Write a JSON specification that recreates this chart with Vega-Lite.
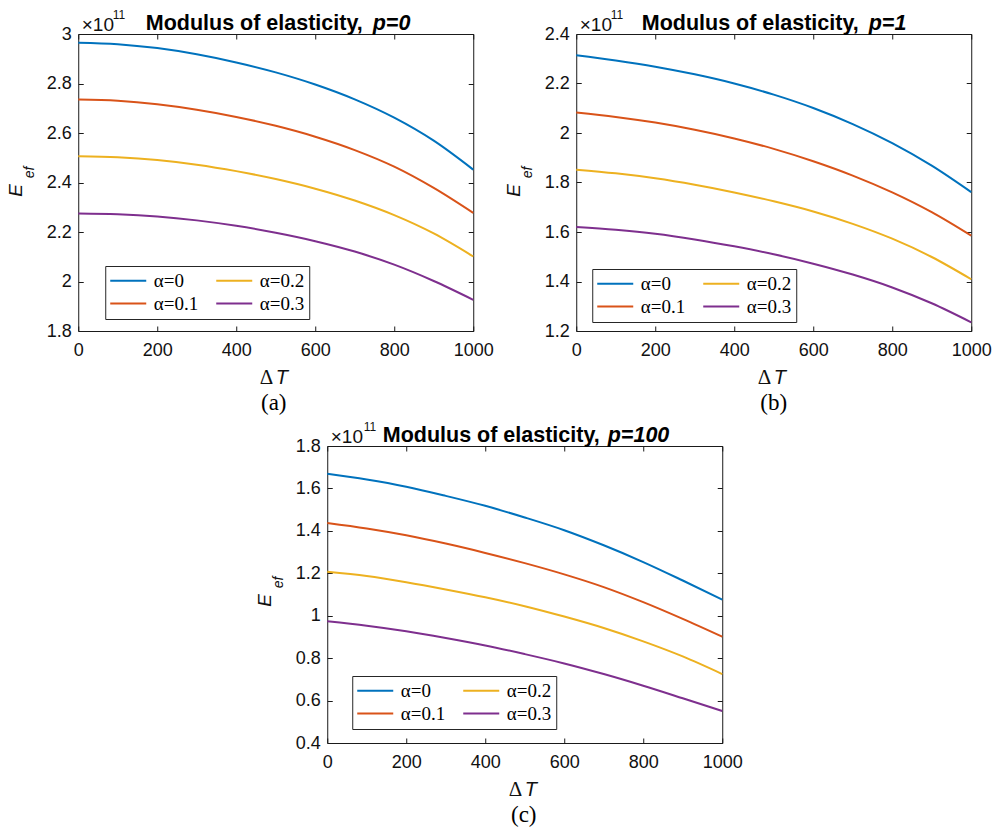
{
  "$schema": "https://vega.github.io/schema/vega-lite/v6.json",
  "padding": {"left": 5, "top": 7, "right": 5, "bottom": 5},
  "datasets": {
    "a": [
      {"T":0,"E":2.965,"alpha":"α=0"},{"T":100,"E":2.959,"alpha":"α=0"},{"T":200,"E":2.943,"alpha":"α=0"},{"T":300,"E":2.918,"alpha":"α=0"},{"T":400,"E":2.885,"alpha":"α=0"},{"T":500,"E":2.845,"alpha":"α=0"},{"T":600,"E":2.796,"alpha":"α=0"},{"T":700,"E":2.736,"alpha":"α=0"},{"T":800,"E":2.662,"alpha":"α=0"},{"T":900,"E":2.569,"alpha":"α=0"},{"T":1000,"E":2.452,"alpha":"α=0"},
      {"T":0,"E":2.735,"alpha":"α=0.1"},{"T":100,"E":2.730,"alpha":"α=0.1"},{"T":200,"E":2.716,"alpha":"α=0.1"},{"T":300,"E":2.694,"alpha":"α=0.1"},{"T":400,"E":2.665,"alpha":"α=0.1"},{"T":500,"E":2.629,"alpha":"α=0.1"},{"T":600,"E":2.585,"alpha":"α=0.1"},{"T":700,"E":2.531,"alpha":"α=0.1"},{"T":800,"E":2.464,"alpha":"α=0.1"},{"T":900,"E":2.378,"alpha":"α=0.1"},{"T":1000,"E":2.277,"alpha":"α=0.1"},
      {"T":0,"E":2.506,"alpha":"α=0.2"},{"T":100,"E":2.502,"alpha":"α=0.2"},{"T":200,"E":2.491,"alpha":"α=0.2"},{"T":300,"E":2.472,"alpha":"α=0.2"},{"T":400,"E":2.446,"alpha":"α=0.2"},{"T":500,"E":2.414,"alpha":"α=0.2"},{"T":600,"E":2.375,"alpha":"α=0.2"},{"T":700,"E":2.327,"alpha":"α=0.2"},{"T":800,"E":2.268,"alpha":"α=0.2"},{"T":900,"E":2.194,"alpha":"α=0.2"},{"T":1000,"E":2.101,"alpha":"α=0.2"},
      {"T":0,"E":2.275,"alpha":"α=0.3"},{"T":100,"E":2.272,"alpha":"α=0.3"},{"T":200,"E":2.263,"alpha":"α=0.3"},{"T":300,"E":2.247,"alpha":"α=0.3"},{"T":400,"E":2.225,"alpha":"α=0.3"},{"T":500,"E":2.197,"alpha":"α=0.3"},{"T":600,"E":2.163,"alpha":"α=0.3"},{"T":700,"E":2.121,"alpha":"α=0.3"},{"T":800,"E":2.068,"alpha":"α=0.3"},{"T":900,"E":2.002,"alpha":"α=0.3"},{"T":1000,"E":1.926,"alpha":"α=0.3"}
    ],
    "b": [
      {"T":0,"E":2.314,"alpha":"α=0"},{"T":100,"E":2.293,"alpha":"α=0"},{"T":200,"E":2.268,"alpha":"α=0"},{"T":300,"E":2.237,"alpha":"α=0"},{"T":400,"E":2.200,"alpha":"α=0"},{"T":500,"E":2.155,"alpha":"α=0"},{"T":600,"E":2.101,"alpha":"α=0"},{"T":700,"E":2.036,"alpha":"α=0"},{"T":800,"E":1.959,"alpha":"α=0"},{"T":900,"E":1.868,"alpha":"α=0"},{"T":1000,"E":1.761,"alpha":"α=0"},
      {"T":0,"E":2.083,"alpha":"α=0.1"},{"T":100,"E":2.065,"alpha":"α=0.1"},{"T":200,"E":2.042,"alpha":"α=0.1"},{"T":300,"E":2.013,"alpha":"α=0.1"},{"T":400,"E":1.978,"alpha":"α=0.1"},{"T":500,"E":1.936,"alpha":"α=0.1"},{"T":600,"E":1.886,"alpha":"α=0.1"},{"T":700,"E":1.828,"alpha":"α=0.1"},{"T":800,"E":1.760,"alpha":"α=0.1"},{"T":900,"E":1.680,"alpha":"α=0.1"},{"T":1000,"E":1.585,"alpha":"α=0.1"},
      {"T":0,"E":1.852,"alpha":"α=0.2"},{"T":100,"E":1.837,"alpha":"α=0.2"},{"T":200,"E":1.817,"alpha":"α=0.2"},{"T":300,"E":1.791,"alpha":"α=0.2"},{"T":400,"E":1.760,"alpha":"α=0.2"},{"T":500,"E":1.724,"alpha":"α=0.2"},{"T":600,"E":1.683,"alpha":"α=0.2"},{"T":700,"E":1.633,"alpha":"α=0.2"},{"T":800,"E":1.573,"alpha":"α=0.2"},{"T":900,"E":1.499,"alpha":"α=0.2"},{"T":1000,"E":1.409,"alpha":"α=0.2"},
      {"T":0,"E":1.620,"alpha":"α=0.3"},{"T":100,"E":1.609,"alpha":"α=0.3"},{"T":200,"E":1.593,"alpha":"α=0.3"},{"T":300,"E":1.570,"alpha":"α=0.3"},{"T":400,"E":1.542,"alpha":"α=0.3"},{"T":500,"E":1.510,"alpha":"α=0.3"},{"T":600,"E":1.472,"alpha":"α=0.3"},{"T":700,"E":1.428,"alpha":"α=0.3"},{"T":800,"E":1.376,"alpha":"α=0.3"},{"T":900,"E":1.312,"alpha":"α=0.3"},{"T":1000,"E":1.235,"alpha":"α=0.3"}
    ],
    "c": [
      {"T":0,"E":1.669,"alpha":"α=0"},{"T":100,"E":1.642,"alpha":"α=0"},{"T":200,"E":1.608,"alpha":"α=0"},{"T":300,"E":1.565,"alpha":"α=0"},{"T":400,"E":1.518,"alpha":"α=0"},{"T":500,"E":1.463,"alpha":"α=0"},{"T":600,"E":1.403,"alpha":"α=0"},{"T":700,"E":1.332,"alpha":"α=0"},{"T":800,"E":1.253,"alpha":"α=0"},{"T":900,"E":1.166,"alpha":"α=0"},{"T":1000,"E":1.076,"alpha":"α=0"},
      {"T":0,"E":1.437,"alpha":"α=0.1"},{"T":100,"E":1.411,"alpha":"α=0.1"},{"T":200,"E":1.379,"alpha":"α=0.1"},{"T":300,"E":1.340,"alpha":"α=0.1"},{"T":400,"E":1.296,"alpha":"α=0.1"},{"T":500,"E":1.248,"alpha":"α=0.1"},{"T":600,"E":1.195,"alpha":"α=0.1"},{"T":700,"E":1.135,"alpha":"α=0.1"},{"T":800,"E":1.064,"alpha":"α=0.1"},{"T":900,"E":0.985,"alpha":"α=0.1"},{"T":1000,"E":0.901,"alpha":"α=0.1"},
      {"T":0,"E":1.207,"alpha":"α=0.2"},{"T":100,"E":1.187,"alpha":"α=0.2"},{"T":200,"E":1.158,"alpha":"α=0.2"},{"T":300,"E":1.124,"alpha":"α=0.2"},{"T":400,"E":1.087,"alpha":"α=0.2"},{"T":500,"E":1.045,"alpha":"α=0.2"},{"T":600,"E":0.996,"alpha":"α=0.2"},{"T":700,"E":0.942,"alpha":"α=0.2"},{"T":800,"E":0.879,"alpha":"α=0.2"},{"T":900,"E":0.808,"alpha":"α=0.2"},{"T":1000,"E":0.725,"alpha":"α=0.2"},
      {"T":0,"E":0.974,"alpha":"α=0.3"},{"T":100,"E":0.953,"alpha":"α=0.3"},{"T":200,"E":0.927,"alpha":"α=0.3"},{"T":300,"E":0.895,"alpha":"α=0.3"},{"T":400,"E":0.860,"alpha":"α=0.3"},{"T":500,"E":0.819,"alpha":"α=0.3"},{"T":600,"E":0.775,"alpha":"α=0.3"},{"T":700,"E":0.725,"alpha":"α=0.3"},{"T":800,"E":0.670,"alpha":"α=0.3"},{"T":900,"E":0.611,"alpha":"α=0.3"},{"T":1000,"E":0.551,"alpha":"α=0.3"}
    ]
  },
  "vconcat": [
    {
      "hconcat": [
        {
          "width": 395, "height": 297,
          "data": {"name": "a"},
          "resolve": {"axis": {"x": "independent", "y": "independent"}},
          "layer": [
            {
              "mark": {"type": "line", "strokeWidth": 2, "interpolate": "monotone"},
              "encoding": {
                "x": {"field": "T", "type": "quantitative", "scale": {"domain": [0, 1000], "nice": false, "zero": false},
                  "axis": {"orient": "bottom", "values": [0,200,400,600,800,1000], "format": "d", "tickSize": -5, "labelPadding": 15, "title": "T", "titleFontStyle": "italic", "titleFontSize": 20, "titleX": 197, "titleY": 52, "titleAlign": "left", "titleBaseline": "alphabetic", "titleAngle": 0}},
                "y": {"field": "E", "type": "quantitative", "scale": {"domain": [1.8, 3], "nice": false, "zero": false},
                  "axis": {"orient": "left", "values": [1.8,2,2.2,2.4,2.6,2.8,3], "format": ".1~f", "tickSize": -5, "labelPadding": 12, "title": "E", "titleFontStyle": "italic", "titleFontSize": 19, "titleX": -57, "titleY": 156, "titleAlign": "center", "titleBaseline": "alphabetic", "titleAngle": 270}},
                "color": {"field": "alpha", "type": "nominal",
                  "scale": {"domain": ["α=0","α=0.1","α=0.2","α=0.3"], "range": ["#0072BD","#D95319","#EDB120","#7E2F8E"]},
                  "legend": {"title": null, "orient": "none", "legendX": 27, "legendY": 232}}
              }
            },
            {
              "mark": {"type": "point", "opacity": 0},
              "encoding": {
                "x": {"field": "T", "type": "quantitative", "scale": {"domain": [0, 1000], "nice": false, "zero": false},
                  "axis": {"orient": "top", "values": [0,200,400,600,800,1000], "tickSize": -5, "labels": false, "title": "Modulus of elasticity,", "titleFontWeight": "bold", "titleFontSize": 21.5, "titleColor": "#000000", "titleX": 67, "titleY": -5, "titleAlign": "left", "titleBaseline": "alphabetic", "titleAngle": 0}},
                "y": {"field": "E", "type": "quantitative", "scale": {"domain": [1.8, 3], "nice": false, "zero": false},
                  "axis": {"orient": "right", "values": [1.8,2,2.2,2.4,2.6,2.8,3], "tickSize": -5, "labels": false, "title": "Δ", "titleFont": "Liberation Serif", "titleFontSize": 21, "titleX": -214, "titleY": 349, "titleAlign": "left", "titleBaseline": "alphabetic", "titleAngle": 0}}
              }
            },
            {
              "mark": {"type": "point", "opacity": 0},
              "encoding": {
                "x": {"field": "T", "type": "quantitative", "scale": {"domain": [0, 1000], "nice": false, "zero": false},
                  "axis": {"orient": "top", "ticks": false, "labels": false, "title": "p=0", "titleFontWeight": "bold", "titleFontStyle": "italic", "titleFontSize": 21.5, "titleColor": "#000000", "titleX": 294, "titleY": -5, "titleAlign": "left", "titleBaseline": "alphabetic", "titleAngle": 0}},
                "y": {"field": "E", "type": "quantitative", "scale": {"domain": [1.8, 3], "nice": false, "zero": false},
                  "axis": {"orient": "left", "ticks": false, "labels": false, "title": "ef", "titleFontStyle": "italic", "titleFontSize": 14, "titleX": -45, "titleY": 138, "titleAlign": "center", "titleBaseline": "alphabetic", "titleAngle": 270}}
              }
            },
            {
              "mark": {"type": "point", "opacity": 0},
              "encoding": {
                "x": {"field": "T", "type": "quantitative", "scale": {"domain": [0, 1000], "nice": false, "zero": false},
                  "axis": {"orient": "top", "ticks": false, "labels": false, "title": "×10", "titleFontSize": 19, "titleX": 3, "titleY": -4, "titleAlign": "left", "titleBaseline": "alphabetic", "titleAngle": 0}},
                "y": {"field": "E", "type": "quantitative", "scale": {"domain": [1.8, 3], "nice": false, "zero": false},
                  "axis": {"orient": "left", "ticks": false, "labels": false, "title": "11", "titleFontSize": 12, "titleX": 34, "titleY": -16, "titleAlign": "left", "titleBaseline": "alphabetic", "titleAngle": 0}}
              }
            },
            {
              "mark": {"type": "point", "opacity": 0},
              "encoding": {
                "x": {"field": "T", "type": "quantitative", "scale": {"domain": [0, 1000], "nice": false, "zero": false},
                  "axis": {"orient": "bottom", "ticks": false, "labels": false, "title": "(a)", "titleFont": "Liberation Serif", "titleFontSize": 23, "titleColor": "#000000", "titleX": 195, "titleY": 78, "titleAlign": "center", "titleBaseline": "alphabetic", "titleAngle": 0}},
                "y": {"field": "E", "type": "quantitative", "scale": {"domain": [1.8, 3], "nice": false, "zero": false}, "axis": null}
              }
            }
          ]
        },
        {
          "width": 395, "height": 297,
          "data": {"name": "b"},
          "resolve": {"axis": {"x": "independent", "y": "independent"}},
          "layer": [
            {
              "mark": {"type": "line", "strokeWidth": 2, "interpolate": "monotone"},
              "encoding": {
                "x": {"field": "T", "type": "quantitative", "scale": {"domain": [0, 1000], "nice": false, "zero": false},
                  "axis": {"orient": "bottom", "values": [0,200,400,600,800,1000], "format": "d", "tickSize": -5, "labelPadding": 15, "title": "T", "titleFontStyle": "italic", "titleFontSize": 20, "titleX": 197, "titleY": 52, "titleAlign": "left", "titleBaseline": "alphabetic", "titleAngle": 0}},
                "y": {"field": "E", "type": "quantitative", "scale": {"domain": [1.2, 2.4], "nice": false, "zero": false},
                  "axis": {"orient": "left", "values": [1.2,1.4,1.6,1.8,2,2.2,2.4], "format": ".1~f", "tickSize": -5, "labelPadding": 12, "title": "E", "titleFontStyle": "italic", "titleFontSize": 19, "titleX": -57, "titleY": 156, "titleAlign": "center", "titleBaseline": "alphabetic", "titleAngle": 270}},
                "color": {"field": "alpha", "type": "nominal",
                  "scale": {"domain": ["α=0","α=0.1","α=0.2","α=0.3"], "range": ["#0072BD","#D95319","#EDB120","#7E2F8E"]},
                  "legend": {"title": null, "orient": "none", "legendX": 16, "legendY": 235}}
              }
            },
            {
              "mark": {"type": "point", "opacity": 0},
              "encoding": {
                "x": {"field": "T", "type": "quantitative", "scale": {"domain": [0, 1000], "nice": false, "zero": false},
                  "axis": {"orient": "top", "values": [0,200,400,600,800,1000], "tickSize": -5, "labels": false, "title": "Modulus of elasticity,", "titleFontWeight": "bold", "titleFontSize": 21.5, "titleColor": "#000000", "titleX": 65, "titleY": -5, "titleAlign": "left", "titleBaseline": "alphabetic", "titleAngle": 0}},
                "y": {"field": "E", "type": "quantitative", "scale": {"domain": [1.2, 2.4], "nice": false, "zero": false},
                  "axis": {"orient": "right", "values": [1.2,1.4,1.6,1.8,2,2.2,2.4], "tickSize": -5, "labels": false, "title": "Δ", "titleFont": "Liberation Serif", "titleFontSize": 21, "titleX": -214, "titleY": 349, "titleAlign": "left", "titleBaseline": "alphabetic", "titleAngle": 0}}
              }
            },
            {
              "mark": {"type": "point", "opacity": 0},
              "encoding": {
                "x": {"field": "T", "type": "quantitative", "scale": {"domain": [0, 1000], "nice": false, "zero": false},
                  "axis": {"orient": "top", "ticks": false, "labels": false, "title": "p=1", "titleFontWeight": "bold", "titleFontStyle": "italic", "titleFontSize": 21.5, "titleColor": "#000000", "titleX": 292, "titleY": -5, "titleAlign": "left", "titleBaseline": "alphabetic", "titleAngle": 0}},
                "y": {"field": "E", "type": "quantitative", "scale": {"domain": [1.2, 2.4], "nice": false, "zero": false},
                  "axis": {"orient": "left", "ticks": false, "labels": false, "title": "ef", "titleFontStyle": "italic", "titleFontSize": 14, "titleX": -45, "titleY": 138, "titleAlign": "center", "titleBaseline": "alphabetic", "titleAngle": 270}}
              }
            },
            {
              "mark": {"type": "point", "opacity": 0},
              "encoding": {
                "x": {"field": "T", "type": "quantitative", "scale": {"domain": [0, 1000], "nice": false, "zero": false},
                  "axis": {"orient": "top", "ticks": false, "labels": false, "title": "×10", "titleFontSize": 19, "titleX": 3, "titleY": -4, "titleAlign": "left", "titleBaseline": "alphabetic", "titleAngle": 0}},
                "y": {"field": "E", "type": "quantitative", "scale": {"domain": [1.2, 2.4], "nice": false, "zero": false},
                  "axis": {"orient": "left", "ticks": false, "labels": false, "title": "11", "titleFontSize": 12, "titleX": 34, "titleY": -16, "titleAlign": "left", "titleBaseline": "alphabetic", "titleAngle": 0}}
              }
            },
            {
              "mark": {"type": "point", "opacity": 0},
              "encoding": {
                "x": {"field": "T", "type": "quantitative", "scale": {"domain": [0, 1000], "nice": false, "zero": false},
                  "axis": {"orient": "bottom", "ticks": false, "labels": false, "title": "(b)", "titleFont": "Liberation Serif", "titleFontSize": 23, "titleColor": "#000000", "titleX": 197, "titleY": 78, "titleAlign": "center", "titleBaseline": "alphabetic", "titleAngle": 0}},
                "y": {"field": "E", "type": "quantitative", "scale": {"domain": [1.2, 2.4], "nice": false, "zero": false}, "axis": null}
              }
            }
          ]
        }
      ],
      "spacing": 103,
      "bounds": "flush",
      "resolve": {"scale": {"color": "independent"}}
    },
    {
      "width": 395, "height": 297,
      "data": {"name": "c"},
      "resolve": {"axis": {"x": "independent", "y": "independent"}},
      "layer": [
        {
          "mark": {"type": "line", "strokeWidth": 2, "interpolate": "monotone"},
          "encoding": {
            "x": {"field": "T", "type": "quantitative", "scale": {"domain": [0, 1000], "nice": false, "zero": false},
              "axis": {"orient": "bottom", "values": [0,200,400,600,800,1000], "format": "d", "tickSize": -5, "labelPadding": 15, "title": "T", "titleFontStyle": "italic", "titleFontSize": 20, "titleX": 197, "titleY": 52, "titleAlign": "left", "titleBaseline": "alphabetic", "titleAngle": 0}},
            "y": {"field": "E", "type": "quantitative", "scale": {"domain": [0.4, 1.8], "nice": false, "zero": false},
              "axis": {"orient": "left", "values": [0.4,0.6,0.8,1,1.2,1.4,1.6,1.8], "format": ".1~f", "tickSize": -5, "labelPadding": 12, "title": "E", "titleFontStyle": "italic", "titleFontSize": 19, "titleX": -57, "titleY": 154, "titleAlign": "center", "titleBaseline": "alphabetic", "titleAngle": 270}},
            "color": {"field": "alpha", "type": "nominal",
              "scale": {"domain": ["α=0","α=0.1","α=0.2","α=0.3"], "range": ["#0072BD","#D95319","#EDB120","#7E2F8E"]},
              "legend": {"title": null, "orient": "none", "legendX": 25, "legendY": 230}}
          }
        },
        {
          "mark": {"type": "point", "opacity": 0},
          "encoding": {
            "x": {"field": "T", "type": "quantitative", "scale": {"domain": [0, 1000], "nice": false, "zero": false},
              "axis": {"orient": "top", "values": [0,200,400,600,800,1000], "tickSize": -5, "labels": false, "title": "Modulus of elasticity,", "titleFontWeight": "bold", "titleFontSize": 21.5, "titleColor": "#000000", "titleX": 55, "titleY": -5, "titleAlign": "left", "titleBaseline": "alphabetic", "titleAngle": 0}},
            "y": {"field": "E", "type": "quantitative", "scale": {"domain": [0.4, 1.8], "nice": false, "zero": false},
              "axis": {"orient": "right", "values": [0.4,0.6,0.8,1,1.2,1.4,1.6,1.8], "tickSize": -5, "labels": false, "title": "Δ", "titleFont": "Liberation Serif", "titleFontSize": 21, "titleX": -214, "titleY": 349, "titleAlign": "left", "titleBaseline": "alphabetic", "titleAngle": 0}}
          }
        },
        {
          "mark": {"type": "point", "opacity": 0},
          "encoding": {
            "x": {"field": "T", "type": "quantitative", "scale": {"domain": [0, 1000], "nice": false, "zero": false},
              "axis": {"orient": "top", "ticks": false, "labels": false, "title": "p=100", "titleFontWeight": "bold", "titleFontStyle": "italic", "titleFontSize": 21.5, "titleColor": "#000000", "titleX": 280, "titleY": -5, "titleAlign": "left", "titleBaseline": "alphabetic", "titleAngle": 0}},
            "y": {"field": "E", "type": "quantitative", "scale": {"domain": [0.4, 1.8], "nice": false, "zero": false},
              "axis": {"orient": "left", "ticks": false, "labels": false, "title": "ef", "titleFontStyle": "italic", "titleFontSize": 14, "titleX": -45, "titleY": 136, "titleAlign": "center", "titleBaseline": "alphabetic", "titleAngle": 270}}
          }
        },
        {
          "mark": {"type": "point", "opacity": 0},
          "encoding": {
            "x": {"field": "T", "type": "quantitative", "scale": {"domain": [0, 1000], "nice": false, "zero": false},
              "axis": {"orient": "top", "ticks": false, "labels": false, "title": "×10", "titleFontSize": 19, "titleX": 3, "titleY": -4, "titleAlign": "left", "titleBaseline": "alphabetic", "titleAngle": 0}},
            "y": {"field": "E", "type": "quantitative", "scale": {"domain": [0.4, 1.8], "nice": false, "zero": false},
              "axis": {"orient": "left", "ticks": false, "labels": false, "title": "11", "titleFontSize": 12, "titleX": 36, "titleY": -16, "titleAlign": "left", "titleBaseline": "alphabetic", "titleAngle": 0}}
          }
        },
        {
          "mark": {"type": "point", "opacity": 0},
          "encoding": {
            "x": {"field": "T", "type": "quantitative", "scale": {"domain": [0, 1000], "nice": false, "zero": false},
              "axis": {"orient": "bottom", "ticks": false, "labels": false, "title": "(c)", "titleFont": "Liberation Serif", "titleFontSize": 23, "titleColor": "#000000", "titleX": 196, "titleY": 78, "titleAlign": "center", "titleBaseline": "alphabetic", "titleAngle": 0}},
            "y": {"field": "E", "type": "quantitative", "scale": {"domain": [0.4, 1.8], "nice": false, "zero": false}, "axis": null}
          }
        }
      ]
    }
  ],
  "spacing": 4,
  "center": true,
  "resolve": {"scale": {"color": "independent"}},
  "config": {
    "font": "Liberation Sans",
    "view": {"stroke": "#1a1a1a", "strokeWidth": 1},
    "axis": {"domain": false, "grid": false, "labelFont": "Liberation Sans", "labelFontSize": 18, "labelColor": "#111111", "tickColor": "#1a1a1a", "tickWidth": 1, "labelFlush": false, "labelOverlap": false, "titleColor": "#111111", "titleFont": "Liberation Sans", "titleFontWeight": "normal"},
    "legend": {"columns": 2, "symbolType": "M-2.4,0H2.4", "symbolSize": 225, "symbolStrokeWidth": 2, "symbolOffset": 8.5, "labelOffset": 16, "labelFont": "Liberation Serif", "labelFontSize": 19, "labelColor": "#000000", "columnPadding": 14, "rowPadding": 3, "padding": 5, "strokeColor": "#262626", "fillColor": "#ffffff"}
  }
}
